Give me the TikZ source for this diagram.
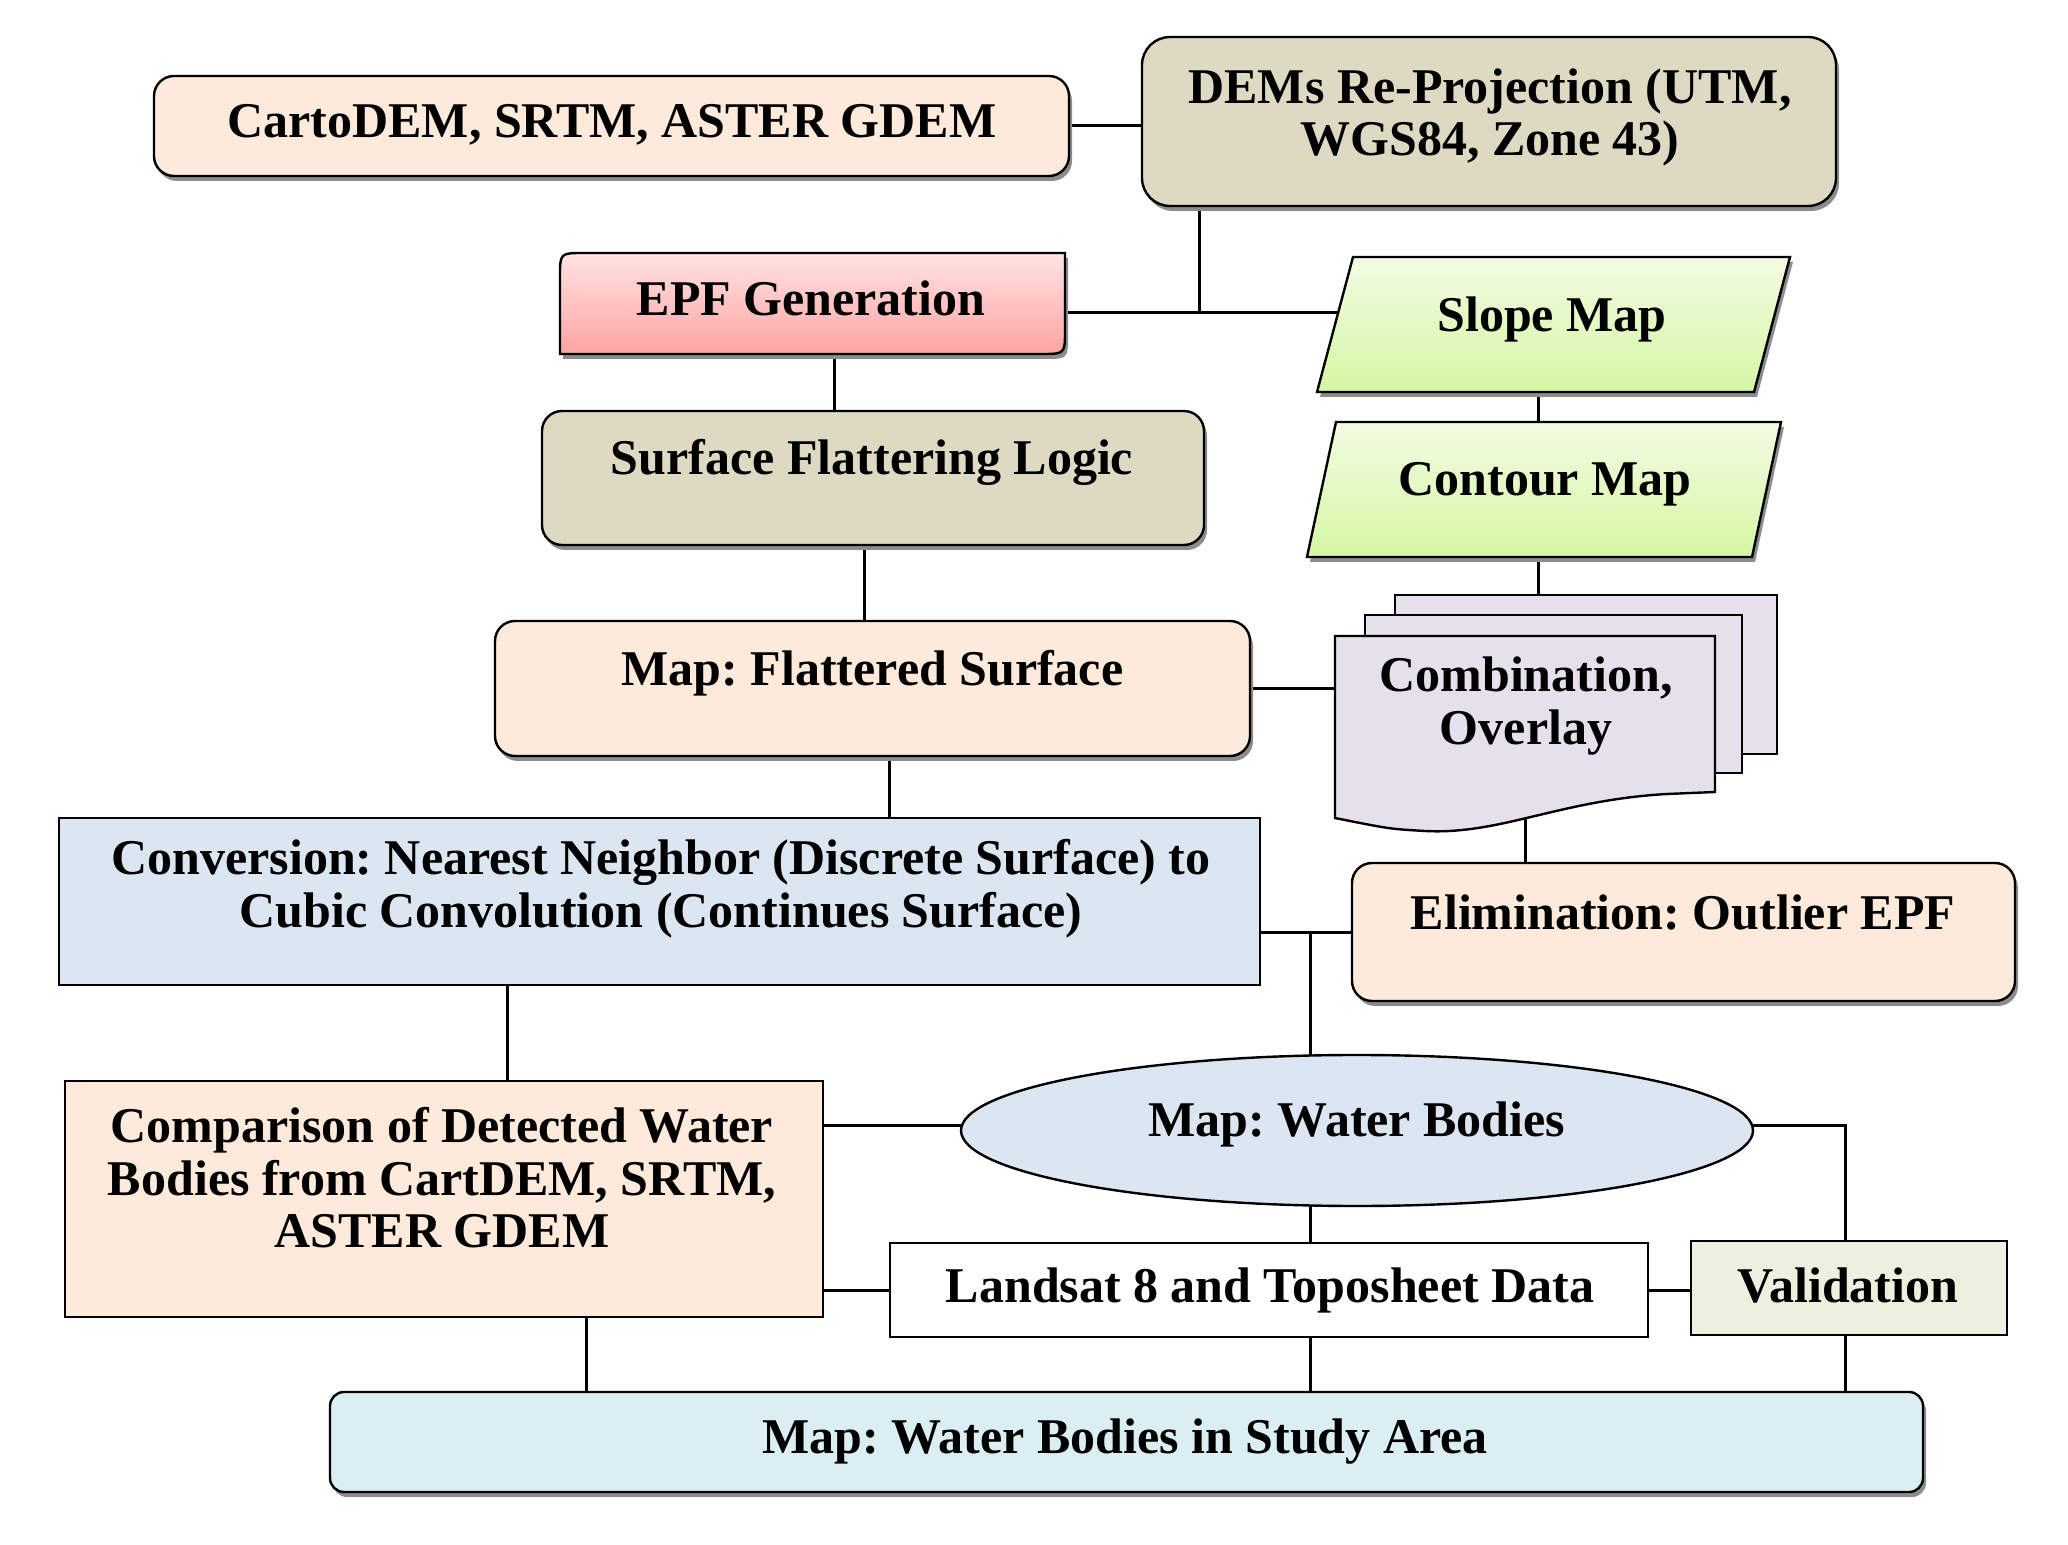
\documentclass[tikz,border=0pt]{standalone}
\usepackage{fontspec}
\setmainfont{Liberation Serif}
\usetikzlibrary{shapes.geometric,shadows,calc,backgrounds}
\definecolor{cpeach}{HTML}{FDEADA}
\definecolor{ckhaki}{HTML}{DDD9C3}
\definecolor{cepftop}{HTML}{FFE3E3}
\definecolor{cepfbot}{HTML}{FFA3A3}
\definecolor{cgrtop}{HTML}{F2FBE3}
\definecolor{cgrbot}{HTML}{D5F7A3}
\definecolor{clav}{HTML}{E5E0EC}
\definecolor{clblue}{HTML}{DCE6F2}
\definecolor{cvgreen}{HTML}{EBF1DE}
\definecolor{csblue}{HTML}{DBEEF4}
\definecolor{cshadow}{HTML}{8C8C8C}
\frenchspacing
\begin{document}
\begin{tikzpicture}[x=0.5pt,y=-0.5pt,
  bx/.style={draw=black, line width=1.2pt, inner sep=0pt},
  shad/.style={drop shadow={shadow xshift=1.5pt,shadow yshift=-2.5pt,fill=cshadow,opacity=1}},
  rbox/.style={bx, rounded corners=10pt, shad},
  sbox/.style={bx, rectangle},
  shadowpath/.style={fill=cshadow, transform canvas={xshift=1.5pt,yshift=-2.5pt}},
  greenfill/.style={draw=black, line width=1.2pt, top color=cgrtop, bottom color=cgrbot},
  ghost/.style={inner sep=0pt, outer sep=0pt},
  txt/.style={font=\fontsize{25}{26.3}\selectfont\bfseries, align=center, inner sep=0pt},
  ln/.style={line width=1.5pt}
]
\useasboundingbox (0,0) rectangle (2068,1545);

% boxes
\node[rbox, fill=cpeach, minimum width=457.5pt, minimum height=50pt] (carto) at (611.5,126) {};
\node[txt] (cartot) at (612,125) {CartoDEM, SRTM, ASTER GDEM};

\node[rbox, fill=ckhaki, rounded corners=14pt, minimum width=347pt, minimum height=84.5pt] (dems) at (1489,121.5) {};
\node[txt] (demst) at (1490,117.5) {DEMs Re-Projection (UTM,\\WGS84, Zone 43)};

\node[ghost, minimum width=252.5pt, minimum height=50.5pt] (epf) at (812.5,303.5) {};
\path[shadowpath]
  ($(epf.north west)+(12pt,0)$) -- (epf.north east) -- ($(epf.south east)+(0,12pt)$)
  .. controls (epf.south east) .. ($(epf.south east)+(-12pt,0)$) -- (epf.south west)
  -- ($(epf.north west)+(0,-12pt)$) .. controls (epf.north west) .. ($(epf.north west)+(12pt,0)$) -- cycle;
\path[draw=black, line width=1.2pt, top color=cepftop, bottom color=cepfbot]
  ($(epf.north west)+(12pt,0)$) -- (epf.north east) -- ($(epf.south east)+(0,12pt)$)
  .. controls (epf.south east) .. ($(epf.south east)+(-12pt,0)$) -- (epf.south west)
  -- ($(epf.north west)+(0,-12pt)$) .. controls (epf.north west) .. ($(epf.north west)+(12pt,0)$) -- cycle;
\node[txt] (epft) at (811,298) {EPF Generation};

\node[ghost, minimum width=236.5pt, minimum height=67.5pt] (slope) at (1553.5,324.5) {};
\path[shadowpath] ($(slope.north west)+(18pt,0)$) -- (slope.north east) -- ($(slope.south east)+(-18pt,0)$) -- (slope.south west) -- cycle;
\path[greenfill] ($(slope.north west)+(18pt,0)$) -- (slope.north east) -- ($(slope.south east)+(-18pt,0)$) -- (slope.south west) -- cycle;
\node[txt] (slopet) at (1552,319) {Slope Map};

\node[ghost, minimum width=237pt, minimum height=67.5pt] (contour) at (1544,489.5) {};
\path[shadowpath] ($(contour.north west)+(14.5pt,0)$) -- (contour.north east) -- ($(contour.south east)+(-14.5pt,0)$) -- (contour.south west) -- cycle;
\path[greenfill] ($(contour.north west)+(14.5pt,0)$) -- (contour.north east) -- ($(contour.south east)+(-14.5pt,0)$) -- (contour.south west) -- cycle;
\node[txt] (contourt) at (1545,484) {Contour Map};

\node[rbox, fill=ckhaki, minimum width=331pt, minimum height=67pt] (sfl) at (873,478) {};
\node[txt] (sflt) at (872,462) {Surface Flattering Logic};

\node[rbox, fill=cpeach, minimum width=377.5pt, minimum height=67.5pt] (mfs) at (872.5,688.5) {};
\node[txt] (mfst) at (872.5,673) {Map: Flattered Surface};

% multi document
\node[ghost, minimum width=191pt, minimum height=79.5pt] (combback) at (1586,674.5) {};
\node[ghost, minimum width=188.5pt, minimum height=79pt] (combmid) at (1553.5,694) {};
\node[ghost, minimum width=190pt, minimum height=92pt] (comb) at (1525,728) {};
\draw[line width=1.2pt, fill=clav] (combback.north west) rectangle (combback.south east);
\draw[line width=1.2pt, fill=clav] (combmid.north west) rectangle (combmid.south east);
\draw[line width=1.2pt, fill=clav] (1335,636) -- (1715,636) -- (1715,792) -- (1667,794)
  .. controls (1560,800) and (1500,835) .. (1425,831) .. controls (1390,829) .. (1335,818) -- cycle;
\node[txt] (combt) at (1526,706) {Combination,\\Overlay};

\node[rbox, fill=cpeach, minimum width=331.5pt, minimum height=69pt] (elim) at (1683.5,932) {};
\node[txt] (elimt) at (1683,913) {Elimination: Outlier EPF};

\node[sbox, fill=clblue, minimum width=600.5pt, minimum height=83.5pt] (conv) at (659.5,901.5) {};
\node[txt] (convt) at (661,889) {Conversion: Nearest Neighbor (Discrete Surface) to\\Cubic Convolution (Continues Surface)};

\node[bx, ellipse, fill=clblue, minimum width=396pt, minimum height=75.5pt] (wb) at (1357,1130.5) {};
\node[txt] (wbt) at (1357,1124) {Map: Water Bodies};

\node[sbox, fill=cpeach, minimum width=379pt, minimum height=118pt] (cmp) at (444,1199) {};
\node[txt] (cmpt) at (442,1178) {Comparison of Detected Water\\Bodies from CartDEM, SRTM,\\ASTER GDEM};

\node[sbox, fill=white, minimum width=379pt, minimum height=47pt] (ls) at (1269,1290) {};
\node[txt] (lst) at (1270,1290) {Landsat 8 and Toposheet Data};

\node[sbox, fill=cvgreen, minimum width=158pt, minimum height=47pt] (val) at (1849,1288) {};
\node[txt] (valt) at (1848,1286) {Validation};

\node[rbox, rounded corners=7pt, fill=csblue, minimum width=796.5pt, minimum height=50pt] (study) at (1126.5,1442) {};
\node[txt] (studyt) at (1125,1442) {Map: Water Bodies in Study Area};

% connectors
\begin{pgfonlayer}{background}
\coordinate (j1) at (1199,313);
\coordinate (j2) at (1310,932);
\coordinate (j4) at (1357,1125);
\coordinate (c1) at (1538,0);
\coordinate (c2) at (834,0);
\coordinate (c3) at (864,0);
\coordinate (c4) at (889,0);
\coordinate (c5) at (507,0);
\coordinate (c6) at (586,0);
\coordinate (c7) at (1845,1125);
\draw[ln] (carto.east) -- (carto.east -| dems.west);
\draw[ln] (dems.south -| j1) -- (j1);
\draw[ln] (j1 -| epf.east) -- (j1 -| slope.center);
\draw[ln] (c1 |- slope.center) -- (c1 |- contour.center);
\draw[ln] (c1 |- contour.center) -- (c1 |- combback.center);
\draw[ln] (c2 |- epf.south) -- (c2 |- sfl.north);
\draw[ln] (c3 |- sfl.south) -- (c3 |- mfs.north);
\draw[ln] (c4 |- mfs.south) -- (c4 |- conv.north);
\draw[ln] (mfs.east) -- (mfs.east -| comb.center);
\draw[ln] (comb.center) -- (comb.center |- elim.north);
\draw[ln] (elim.west) -- (elim.west -| conv.east);
\draw[ln] (j2) -- (j2 |- wb.center);
\draw[ln] (c5 |- conv.south) -- (c5 |- cmp.north);
\draw[ln] (j4) -- (j4 -| cmp.east);
\draw[ln] (ls.west) -- (ls.west -| cmp.east);
\draw[ln] (j2 |- wb.center) -- (j2 |- ls.north);
\draw[ln] (j2 |- ls.south) -- (j2 |- study.north);
\draw[ln] (c6 |- cmp.south) -- (c6 |- study.north);
\draw[ln] (j4) -- (c7) -- (c7 |- val.north);
\draw[ln] (ls.east) -- (ls.east -| val.west);
\draw[ln] (c7 |- val.south) -- (c7 |- study.north);
\end{pgfonlayer}
\end{tikzpicture}
\end{document}
